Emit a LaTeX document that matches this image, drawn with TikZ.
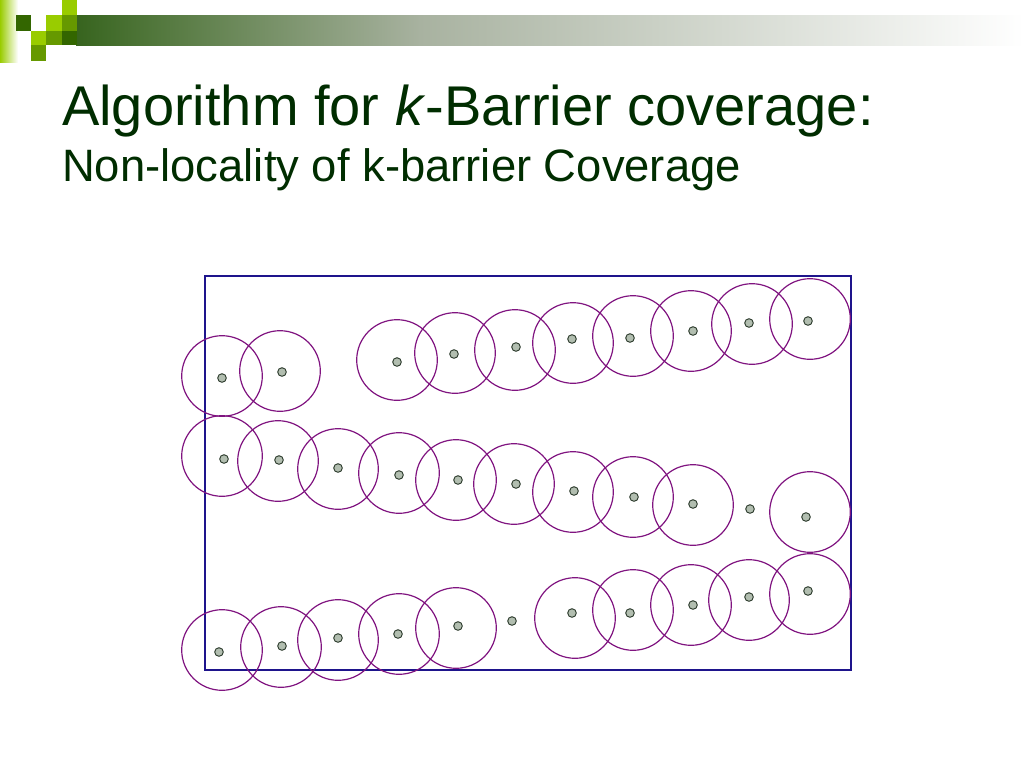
\documentclass[tikz,border=0pt]{standalone}
\usepackage{fontspec}
\setmainfont{Liberation Sans}
\definecolor{titlecol}{RGB}{0,45,0}
\definecolor{rangecol}{RGB}{128,20,128}
\definecolor{fieldcol}{RGB}{30,20,140}
\definecolor{dotfill}{RGB}{178,190,176}
\definecolor{dotborder}{RGB}{40,55,40}
\definecolor{limeg}{RGB}{153,204,0}
\definecolor{midg}{RGB}{102,153,0}
\definecolor{darkg}{RGB}{51,102,0}
\definecolor{barA}{RGB}{55,100,30}
\definecolor{barB}{RGB}{80,118,58}
\definecolor{barC}{RGB}{168,178,160}
\begin{document}
\begin{tikzpicture}[x=1pt,y=-1pt,
  rng/.style={circle, draw=rangecol, line width=1.2pt, minimum size=80.6pt, inner sep=0pt},
  sensor/.style={circle, draw=dotborder, fill=dotfill, line width=0.9pt, minimum size=8.6pt, inner sep=0pt},
  field/.style={draw=fieldcol, line width=1.2pt},
  title/.style={anchor=base west, inner sep=0pt, text=titlecol}]
\useasboundingbox (0,0) rectangle (1024,768);
\fill[white] (0,0) rectangle (1024,768);
% top decoration
\shade[left color=barA, right color=barB] (76,15.4) rectangle (150,45.5);
\shade[left color=barB, right color=barC] (149.5,15.4) rectangle (420,45.5);
\shade[left color=barC, right color=white] (419.5,15.4) rectangle (1024,45.5);
\shade[left color=limeg, right color=white] (0,0) rectangle (18,62);
\fill[darkg] (15.5,15.4) rectangle (30.8,30.8);
\fill[limeg] (61.7,0) rectangle (77,15.4);
\fill[limeg] (46.3,15.4) rectangle (61.7,30.8);
\fill[midg] (61.7,15.4) rectangle (77,30.8);
\fill[limeg] (30.8,30.8) rectangle (46.3,45.5);
\fill[midg] (46.3,30.8) rectangle (61.7,45.5);
\fill[darkg] (61.7,30.8) rectangle (77,45.5);
\fill[midg] (30.8,45.5) rectangle (46.3,61);
% title
\node[title, font=\fontsize{56}{60}\selectfont] (t1) at (62,125) {Algorithm for \textit{k}-Barrier coverage:};
\node[title, font=\fontsize{45.4}{50}\selectfont] (t2) at (62,181) {Non-locality of k-barrier Coverage};
% field
\draw[field] (205,276) rectangle (851,670);
% sensing ranges
\foreach \n/\x/\y in {a1/222/376, a2/280/371, a3/397/360, a4/455/353, a5/515/350, a6/573/343, a7/633/336, a8/691/331, a9/752/324, a10/810/319,
  b1/222/456, b2/278/461, b3/338/469, b4/399/473, b5/456/480, b6/514/484, b7/573/492, b8/633/497, b9/693/505, b11/810/512,
  c1/222/650, c2/281/647, c3/338/640, c4/399/634, c5/456/628, c7/575/618, c8/633/610, c9/691/605, c10/749/600, c11/810/594}
  \node[rng] (r\n) at (\x,\y) {};
% sensors
\foreach \n/\x/\y in {a1/222/378, a2/282/372, a3/397/362, a4/454/354, a5/516/347, a6/572/339, a7/630/338, a8/693/331, a9/749/323, a10/808/321,
  b1/224/459, b2/279/460, b3/338/468, b4/399/475, b5/458/480, b6/516/484, b7/574/491, b8/634/497, b9/693/504, b10/750/509, b11/806/517,
  c1/219/652, c2/282/646, c3/338/638, c4/398/634, c5/458/626, c6/512/621, c7/572/613, c8/630/613, c9/693/605, c10/749/597, c11/808/591}
  \node[sensor] (s\n) at (\x,\y) {};
\end{tikzpicture}
\end{document}
